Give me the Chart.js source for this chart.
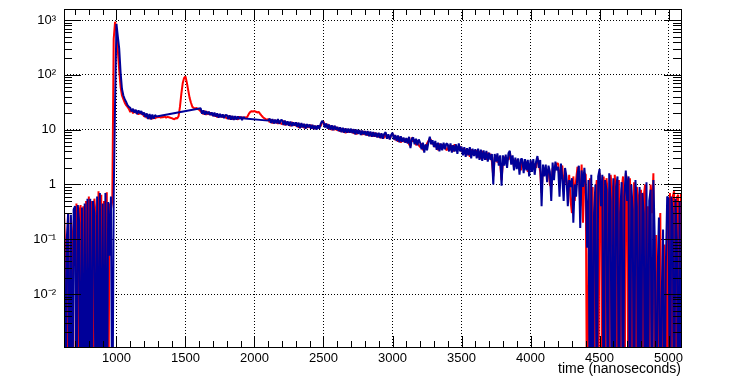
<!DOCTYPE html>
<html>
<head>
  <title>time spectrum</title>
  <script src="https://cdn.jsdelivr.net/npm/chart.js"></script>
  <style>body{margin:0;background:#fff}</style>
</head>
<body>
  <canvas id="timeChart" width="747" height="385"></canvas>
  <script>
    // bins: 10 ns wide, first bin at 600 ns (one row = 100 ns)
    const binStart = 600;
    const binWidth = 10;

    const redCounts = [
      0.2, 0, 0.33, 0.05, 0, 0.3, 0, 0.25, 0.12, 0,
      0, 0.45, 0, 0.3, 0.42, 0, 0.4, 0, 0.5, 0,
      0.6, 0, 0.5, 0, 0.55, 0.25, 0, 0.75, 0, 0.65,
      0, 0.5, 0, 0.72, 0, 0.45, 0.35, 0.5, 450, 930,
      650, 280, 120, 60, 42, 36, 31, 28, 26, 24,
      21, 23.5, 19.8, 22.6, 20, 21.8, 18.8, 21.5, 19, 20.8,
      17.2, 19.4, 16.2, 18.6, 15.6, 18, 15.5, 17.6, 16, 17,
      16.8, 17.2, 16.5, 17, 16.9, 17.3, 16.6, 17.1, 16.8, 16.5,
      16.2, 15.8, 15.5, 16.3, 15.9, 17.5, 26, 45, 70, 88,
      93, 72, 52, 38, 31, 26, 25, 24.2, 24.8, 23.6,
      23, 21.5, 20.2, 19.2, 22, 18.6, 21.2, 18.8, 20.6, 18.5,
      19.8, 17.4, 19.4, 16.8, 18.8, 17, 18.4, 16.6, 18.2, 16.8,
      16, 18, 15.4, 17.6, 15.2, 17.2, 15.4, 17, 15.2, 17.4,
      16, 17, 15.8, 17, 16.2, 17.5, 19.5, 21, 21.7, 21.5,
      21.8, 21.2, 20.6, 21, 19.5, 18.2, 17, 16.2, 15.6, 15.2,
      15.6, 13.6, 15.4, 13, 15, 13.2, 14.8, 12.8, 14.6, 13,
      12.6, 14.6, 12, 14, 12.2, 13.6, 11.6, 13.8, 11.8, 13.2,
      11.6, 13.2, 10.8, 12.8, 11, 12.6, 10.6, 12.4, 10.8, 12.2,
      10.8, 12.2, 10.4, 11.8, 10.2, 11.6, 10.6, 11.8, 11.6, 13.6,
      14, 12, 11.2, 12.6, 10.2, 11.8, 9.8, 11.6, 9.8, 11.2,
      9.6, 10.8, 9.2, 10.6, 9, 10.4, 8.6, 10.2, 8.8, 10,
      8.8, 10, 8.4, 9.8, 8.2, 9.6, 8.6, 9.4, 8, 9.4,
      8, 9.2, 7.8, 9, 7.6, 8.8, 7.4, 8.8, 7.4, 8.6,
      7.2, 8.4, 7, 8.2, 7, 8.6, 7.2, 7.8, 6.8, 7.8,
      8.2, 7.8, 6.4, 7.6, 6, 7.4, 5.8, 7, 6, 6.8,
      5.8, 6.8, 5.4, 5, 7.2, 6, 6.6, 5.2, 6.4, 5.2,
      4.8, 5.6, 4.2, 5.2, 4.4, 5.6, 6.2, 6.8, 6.4, 5.4,
      5.8, 4.8, 5.6, 4.2, 5.6, 4.4, 5.4, 4.6, 5.2, 4.2,
      4.4, 5.2, 4.2, 5.2, 4, 5.4, 4.2, 4.8, 4.4, 5,
      4, 4.6, 3.6, 4.5, 3.4, 4.4, 3.2, 4.4, 3.6, 4.2,
      3.4, 4.2, 3.1, 4, 2.9, 4.1, 3, 3.8, 2.8, 3.8,
      3.2, 3.6, 2.6, 1.4, 3.1, 3.4, 2.5, 3.2, 2.4, 1.2,
      2.6, 3.2, 2.5, 3, 2.8, 3.9, 2.6, 3, 2.1, 2.8,
      2.7, 2.2, 2.5, 1.8, 2.6, 2.3, 2.2, 2.6, 1.7, 2.4,
      2, 2.6, 2, 2.4, 2, 3, 2.4, 1.7, 0.7, 2,
      1.9, 1.5, 1.6, 1.9, 1, 0.9, 2, 1.6, 2.2, 2.4,
      2.4, 1.2, 1.9, 2.2, 0.8, 1.6, 1.1, 0.8, 1.5, 0.5,
      0.3, 1.4, 0.5, 1.2, 2.1, 1.5, 0.4, 2.3, 0.2, 1.6,
      1.5, 0, 0.05, 1.3, 0, 0.9, 0, 0.6, 1.2, 0,
      1.6, 1.1, 0, 1.4, 0, 1.3, 0.7, 0, 1.5, 0.9,
      0, 1.5, 0.6, 0, 1.2, 0, 0.8, 1.4, 0, 1.6,
      1.2, 0, 1.3, 0.2, 0, 1.1, 0, 0.9, 0.6, 0,
      0.8, 0, 0.6, 1, 0, 0.4, 0, 1, 0.3, 1.6,
      0, 0.12, 0, 0.05, 0.3, 0, 0.02, 0.08, 0, 0.4,
      0, 0.7, 0, 0.6, 0.75, 0, 0.58, 0.65, 0, 0.7
    ];

    // afterpulse windows removed -> null (line spans the gap)
    const blueCounts = [
      0.3, 0, 0.32, 0, 0.1, 0.3, 0, 0.28, 0, 0.35,
      0.4, 0, 0.42, 0.2, 0, 0.38, 0, 0.45, 0, 0.55,
      0, 0.55, 0, 0.5, 0.3, 0, 0.6, 0, 0.7, 0,
      0.45, 0, 0.7, 0, 0.48, 0.05, 0.6, 0, 0.6, 30,
      850, 500, 300, 110, 55, 42, 36, 32, 28, 26,
      25, 21.5, 24, 20.5, 23, 19.2, 22.5, 19.8, 21.8, 18.6,
      20.5, 16.8, 19.8, 15.6, 19.2, 15.4, 18.8, 15.8, 18.5, 17.3,
      null, null, null, null, null, null, null, null, null, null,
      null, null, null, null, null, null, null, null, null, null,
      null, null, null, null, null, null, null, null, null, null,
      null, 24.5, 19.5, 22.5, 18.8, 21.8, 19, 21.2, 18.4, 20.6,
      17.6, 20.4, 17.2, 19.8, 16.6, 19.4, 16.8, 19, 16.2, 18.6,
      18.4, 15.6, 18.2, 15.2, 17.8, 15, 17.6, 15.2, 17.4, 15.6,
      17.2, 15, 17, 15.9, null, null, null, null, null, null,
      null, null, null, null, null, null, null, null, null, null,
      14.6, 16, 13.2, 15.6, 12.9, 15.3, 13, 15.6, 12.8, 14.8,
      15, 12.2, 14.6, 12, 14.2, 11.8, 14, 11.6, 13.6, 11.8,
      13.6, 11.2, 13.4, 10.6, 13.2, 11, 12.8, 10.4, 12.6, 11,
      12.4, 10.4, 12.2, 10.2, 11.8, 10, 12, 10.4, 12.8, 14.4,
      13.4, 11, 13, 10.4, 12.4, 10, 12, 9.8, 11.8, 10,
      11.2, 9.4, 11, 9, 10.8, 8.8, 10.6, 8.8, 10.4, 8.8,
      10.4, 8.6, 10.2, 8.2, 10, 8.4, 9.8, 8, 9.6, 8.2,
      9.4, 7.8, 9.4, 7.6, 9.2, 7.4, 9, 7.4, 8.8, 7.2,
      8.8, 7, 8.6, 6.8, 8.4, 9, 6.8, 8.2, 6.6, 8,
      8.8, 6.6, 8, 6.2, 7.8, 5.9, 7.6, 6, 7.2, 5.8,
      7, 5.6, 7.4, 4.6, 6.8, 7.2, 5.4, 6.8, 5.2, 6.6,
      5.8, 4.4, 5.8, 3.8, 5.4, 4.2, 5.8, 7.4, 5.4, 6.4,
      4.8, 6.2, 4.3, 5.8, 4, 5.6, 4.2, 5.8, 4.4, 5.6,
      5.4, 4, 5.6, 3.8, 5.2, 4, 5.4, 3.6, 5.6, 4,
      4.9, 3.4, 4.8, 3.2, 4.6, 3.4, 4.8, 3, 4.5, 3.3,
      4.4, 3, 4.5, 2.8, 4.3, 2.7, 4.2, 2.8, 4.1, 2.6,
      3.8, 2.8, 3.6, 1.0, 3.6, 2.6, 3.7, 2.2, 3.4, 0.95,
      3.4, 2.2, 3.5, 2, 3.7, 4.1, 2.3, 3.4, 1.8, 3.1,
      1.9, 3, 1.5, 2.9, 2.9, 1.6, 2.9, 1.8, 2.8, 1.4,
      2.8, 1.7, 2.9, 1.5, 2.6, 3.3, 2, 2.8, 0.4, 2.3,
      1.4, 2.3, 1.1, 2.2, 1.7, 0.5, 2.5, 1.2, 2.6, 1.8,
      2.1, 0.6, 2.4, 1.3, 0.5, 2, 1.4, 0.4, 1.2, 0.9,
      1.3, 0.2, 1, 0.6, 1.5, 2.2, 0.16, 1.8, 0.9, 2,
      0.9, 0.07, 1.2, 0, 1.5, 0, 0.3, 1, 0, 1.4,
      1.9, 0.4, 1.5, 0, 1.2, 0.8, 0, 1.6, 0.5, 0,
      1.3, 0, 0.9, 1.4, 0, 0.3, 1.1, 0, 0.6, 1.8,
      0.5, 1.4, 0, 1, 0.35, 0, 1.2, 0.4, 0, 0.9,
      0, 0.7, 0.3, 0, 1.1, 0, 0.5, 0.8, 0, 1.2,
      0.1, 0, 0.02, 0.25, 0, 0.008, 0.15, 0, 0.03, 0.6,
      0.55, 0, 0.6, 0.3, 0, 0.55, 0.1, 0, 0.5, 0
    ];

    const xRange = [620, 5090];
    const yRange = [0.00108, 1590];
    const zeroFloor = 1e-5; // empty bins are drawn down to the bottom of the frame
    const xTickValues = [1000, 1500, 2000, 2500, 3000, 3500, 4000, 4500, 5000];
    const yTickValues = [0.01, 0.1, 1, 10, 100, 1000];
    const yTickLabels = ['10\u207B\u00B2', '10\u207B\u00B9', '1', '10', '10\u00B2', '10\u00B3'];
    const xTitle = 'time (nanoseconds)';

    const toPoints = arr => arr.map((v, i) => ({ x: binStart + i * binWidth, y: v === 0 ? zeroFloor : v }));

    const FONT = "'Liberation Sans', Arial, sans-serif";

    // ROOT style frame with inward ticks on all four sides
    const framePlugin = {
      id: 'frame',
      afterDraw(chart) {
        const { ctx, chartArea: a, scales: { x, y } } = chart;
        ctx.save();
        ctx.strokeStyle = '#000';
        ctx.lineWidth = 1;
        ctx.setLineDash([]);
        ctx.beginPath();
        for (let t = 700; t <= xRange[1]; t += 100) {
          if (t < xRange[0]) continue;
          const px = Math.round(x.getPixelForValue(t)) + 0.5;
          const len = t % 500 === 0 ? 11 : 6;
          ctx.moveTo(px, a.bottom); ctx.lineTo(px, a.bottom - len);
          ctx.moveTo(px, a.top); ctx.lineTo(px, a.top + len);
        }
        for (let d = 0.001; d < yRange[1]; d *= 10) {
          for (let m = 1; m <= 9; m++) {
            const v = d * m;
            if (v < yRange[0] || v > yRange[1]) continue;
            const py = Math.round(y.getPixelForValue(v)) + 0.5;
            const len = m === 1 ? 17 : 8;
            ctx.moveTo(a.left, py); ctx.lineTo(a.left + len, py);
            ctx.moveTo(a.right, py); ctx.lineTo(a.right - len, py);
          }
        }
        ctx.stroke();
        ctx.strokeRect(Math.round(a.left) + 0.5, Math.round(a.top) + 0.5,
          Math.round(a.right - a.left), Math.round(a.bottom - a.top));
        ctx.restore();
      }
    };

    new Chart(document.getElementById('timeChart'), {
      type: 'line',
      data: {
        datasets: [
          { label: 'blue', data: toPoints(blueCounts), borderColor: '#000099', borderWidth: 2,
            borderJoinStyle: 'bevel', pointRadius: 0, spanGaps: true, clip: 0 },
          { label: 'red', data: toPoints(redCounts), borderColor: '#ff0000', borderWidth: 2,
            borderJoinStyle: 'bevel', pointRadius: 0, clip: 0 }
        ]
      },
      options: {
        responsive: false,
        animation: false,
        layout: { padding: { left: 0, right: 66, top: 9, bottom: 0 } },
        plugins: { legend: { display: false }, tooltip: { enabled: false } },
        scales: {
          x: {
            type: 'linear', min: xRange[0], max: xRange[1], z: 1,
            afterBuildTicks: s => { s.ticks = xTickValues.map(v => ({ value: v })); },
            afterFit: s => { s.height = 38; s.paddingLeft = 0; s.paddingRight = 0; },
            ticks: { font: { family: FONT, size: 13 }, color: '#000', padding: 4,
              maxRotation: 0, autoSkip: false, callback: v => String(v) },
            grid: { color: '#000', lineWidth: 1, drawTicks: false },
            border: { display: false, dash: [1, 2] },
            title: { display: true, text: xTitle, align: 'end', color: '#000',
              font: { family: FONT, size: 14 }, padding: { top: 0, bottom: 7 } }
          },
          y: {
            type: 'logarithmic', min: yRange[0], max: yRange[1], z: 1,
            afterBuildTicks: s => { s.ticks = yTickValues.map(v => ({ value: v })); },
            afterFit: s => { s.width = 64; s.paddingTop = 0; s.paddingBottom = 0; },
            ticks: { font: { family: FONT, size: 13 }, color: '#000', padding: 8, autoSkip: false,
              callback: v => yTickLabels[yTickValues.indexOf(v)] },
            grid: { color: '#000', lineWidth: 1, drawTicks: false },
            border: { display: false, dash: [1, 2] }
          }
        }
      },
      plugins: [framePlugin]
    });
  </script>
</body>
</html>
